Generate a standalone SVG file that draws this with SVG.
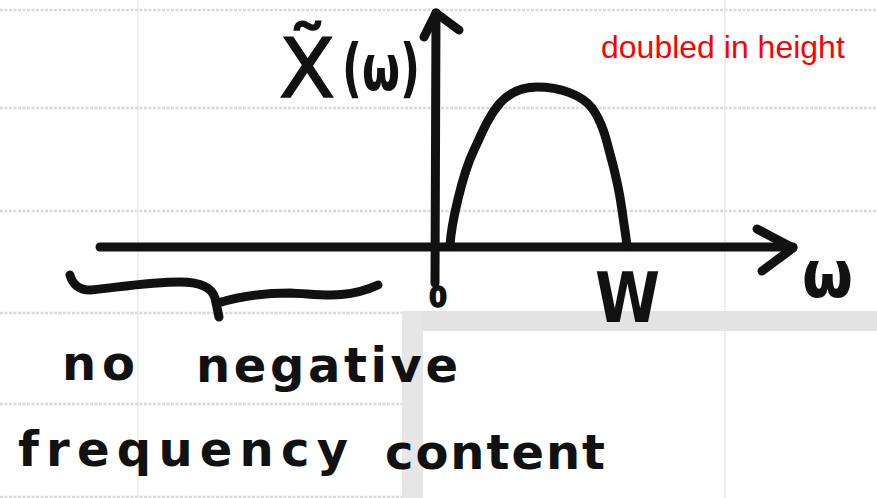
<svg xmlns="http://www.w3.org/2000/svg" width="877" height="498" viewBox="0 0 877 498">
  <style>
    .ink { fill: none; stroke: #111; stroke-width: 9; stroke-linecap: round; stroke-linejoin: round; }
    .hand { font-family: "DejaVu Sans", "Liberation Sans", sans-serif; fill: #111; font-weight: bold; }
    .thin { font-weight: normal; stroke: #111; stroke-width: 1.5; }
    .rule { stroke: #d9d9d9; stroke-width: 2.5; stroke-dasharray: 3 1.5; }
    .vrule { stroke: #e4e4e4; stroke-width: 1.2; }
    .note { font-family: "Liberation Sans", Arial, sans-serif; fill: #ff0000; font-size: 32px; }
  </style>
  <g id="paper">
    <rect x="0" y="0" width="877" height="498" fill="#ffffff"/>
    <line class="rule" x1="0" y1="10" x2="877" y2="10"/>
    <line class="rule" x1="0" y1="108" x2="877" y2="108"/>
    <line class="rule" x1="0" y1="211" x2="877" y2="211"/>
    <line class="rule" x1="0" y1="313" x2="402" y2="313"/>
    <line class="rule" x1="0" y1="404" x2="402" y2="404"/>
    <line class="rule" x1="0" y1="497" x2="402" y2="497"/>
    <line class="vrule" x1="138" y1="0" x2="138" y2="498"/>
    <line class="vrule" x1="725" y1="0" x2="725" y2="498"/>
    <rect x="402" y="311" width="475" height="20" fill="#e3e3e3"/>
    <rect x="402" y="311" width="21" height="187" fill="#e6e6e6"/>
  </g>
  <g id="axes">
    <path class="ink" d="M100,247 L793,247"/>
    <path class="ink" d="M757,229 L793,248 L762,271"/>
    <path class="ink" d="M435,283 L436,13"/>
    <path class="ink" d="M424,37 L436,13 L459,30"/>
  </g>
  <g id="spectrum">
    <path class="ink" d="M450,246 C451,225 462,175 474,150 C482,133 488,117 500,103 C512,90 525,87 537,87 C560,87 582,95 592,108 C602,122 606,138 609,150 C616,175 620,195 622,210 C624,225 626,236 627,246"/>
  </g>
  <g id="brace">
    <path class="ink" d="M70,275 C72,283 78,290 90,290 C120,287 150,282 180,282 C200,282 212,288 215,298 L219,317 M218,303 C240,296 265,293 290,293 C320,294 345,300 378,285"/>
  </g>
  <g id="labels">
    <text class="hand thin" x="307" y="97" font-size="82" text-anchor="middle">X̃</text>
    <text class="hand" x="342" y="90" font-size="64" textLength="78" lengthAdjust="spacingAndGlyphs">(ω)</text>
    <text class="hand" x="429" y="307" font-size="28" textLength="18" lengthAdjust="spacingAndGlyphs" stroke="#111" stroke-width="1.5">0</text>
    <text class="hand" x="595" y="322" font-size="69" textLength="65" lengthAdjust="spacingAndGlyphs">W</text>
    <text class="hand" x="802" y="297" font-size="66" textLength="51" lengthAdjust="spacingAndGlyphs">ω</text>
    <text class="hand" x="62" y="380" font-size="48" textLength="73">no</text>
    <text class="hand" x="196" y="382" font-size="48" textLength="262">negative</text>
    <text class="hand" x="18" y="466" font-size="48" textLength="330">frequency</text>
    <text class="hand" x="385" y="469" font-size="48" textLength="220">content</text>
    <text class="note" x="601" y="58">doubled in height</text>
  </g>
</svg>
